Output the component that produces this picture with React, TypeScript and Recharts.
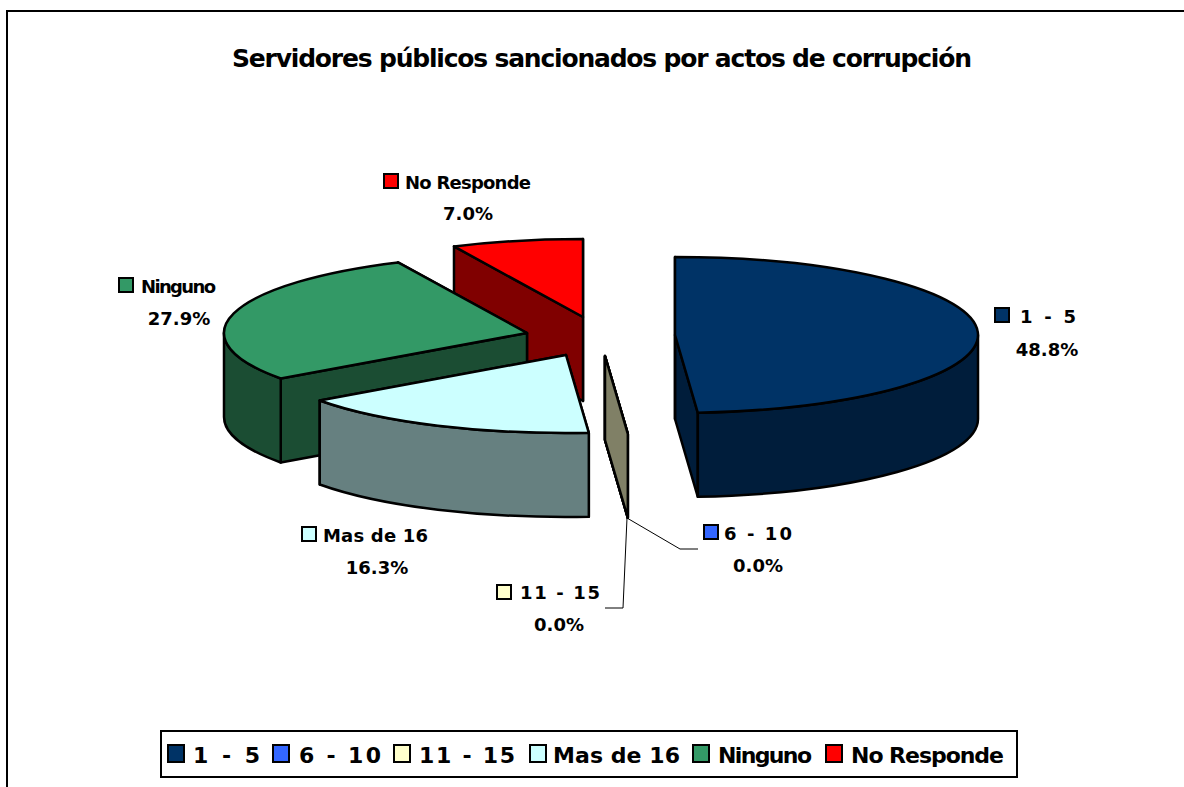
import { Legend, Pie, PieChart } from 'recharts';

const categories = ['1 - 5', '6 - 10', '11 - 15', 'Mas de 16', 'Ninguno', 'No Responde'];
const percentages = [48.8, 0, 0, 16.3, 27.9, 7.0];
const topColors = ['#003366', '#3366ff', '#ffffcc', '#ccffff', '#339966', '#ff0000'];
const sideColors = ['#001d3b', '#808066', '#808066', '#668080', '#1b4d33', '#800000'];

// drawn back to front, which also means counter-clockwise from 12 o'clock
const rows = categories
  .map((name, i) => ({ name, value: percentages[i], fill: topColors[i], side: sideColors[i] }))
  .reverse();

const FONT = '"DejaVu Sans", sans-serif';
const PIE_CX = 592;
const PIE_CY = 340;
const RX = 303;
const RY = 78;
const DEPTH = 84;

// how far each slice is pulled out of the pie
const explode: Record<string, [number, number]> = {
  '1 - 5': [83, -5],
  '6 - 10': [13, 16],
  '11 - 15': [13, 16],
  'Mas de 16': [-26, 15],
  Ninguno: [-65, -7],
  'No Responde': [-9, -23],
};

// swatch x, swatch y, name x, name width, name baseline, percent centre, percent baseline
const labelSpots: Record<string, number[]> = {
  '1 - 5': [995, 308, 1020, 56, 323, 1047, 356],
  '6 - 10': [704, 525, 724, 68, 540, 758, 572],
  '11 - 15': [497, 585, 520, 80, 599, 559, 631],
  'Mas de 16': [302, 527, 323, 105, 542, 377, 574],
  Ninguno: [119, 278, 141, 75, 293, 179, 325],
  'No Responde': [384, 174, 405, 126, 189, 468, 220],
};

const leaders: Record<string, string> = {
  '6 - 10': '627,518 680,549 698,549',
  '11 - 15': '627,518 623,608 605,608',
};

// swatch x, name x, name width, relative to the legend box
const legendSpots = [
  [8, 33, 67],
  [113, 139, 82],
  [234, 259, 96],
  [370, 393, 127],
  [533, 558, 94],
  [666, 691, 153],
];

const rad = (a: number) => (a * Math.PI) / 180;

function Slice(props: any) {
  const { name, startAngle, endAngle, cx, cy, fill, side } = props;
  const [dx, dy] = explode[name];
  const ox = cx + dx;
  const oy = cy + dy;
  const px = (a: number) => ox + RX * Math.cos(rad(a));
  const py = (a: number) => oy - RY * Math.sin(rad(a));
  const large = endAngle - startAngle > 180 ? 1 : 0;
  const cut = (a: number) =>
    `M${ox},${oy} L${px(a)},${py(a)} L${px(a)},${py(a) + DEPTH} L${ox},${oy + DEPTH} Z`;
  const wallFrom = Math.max(startAngle, 180);
  const wallTo = Math.min(endAngle, 360);
  const stroke = { stroke: '#000', strokeWidth: 2.5, strokeLinejoin: 'round' as const };

  return (
    <g>
      <path d={cut(startAngle)} fill={side} {...stroke} />
      <path d={cut(endAngle)} fill={side} {...stroke} />
      {wallTo > wallFrom && (
        <path
          d={`M${px(wallFrom)},${py(wallFrom)} A${RX},${RY} 0 0 0 ${px(wallTo)},${py(wallTo)}
              L${px(wallTo)},${py(wallTo) + DEPTH}
              A${RX},${RY} 0 0 1 ${px(wallFrom)},${py(wallFrom) + DEPTH} Z`}
          fill={side}
          {...stroke}
        />
      )}
      {endAngle > startAngle && (
        <path
          d={`M${ox},${oy} L${px(startAngle)},${py(startAngle)}
              A${RX},${RY} 0 ${large} 0 ${px(endAngle)},${py(endAngle)} Z`}
          fill={fill}
          {...stroke}
        />
      )}
    </g>
  );
}

function SliceLabel(props: any) {
  const { name, percent, fill } = props;
  const [sx, sy, nx, nw, ny, pcx, py] = labelSpots[name];
  return (
    <g fontFamily={FONT} fontWeight="bold" fontSize={18} fill="#000">
      {leaders[name] && <polyline points={leaders[name]} fill="none" stroke="#000" strokeWidth={1} />}
      <rect x={sx} y={sy} width={14} height={14} fill={fill} stroke="#000" strokeWidth={2} />
      <text x={nx} y={ny} textLength={nw} lengthAdjust="spacing" stroke="none" fill="#000">
        {name}
      </text>
      <text x={pcx} y={py} textAnchor="middle" stroke="none" fill="#000">
        {(percent * 100).toFixed(1)}%
      </text>
    </g>
  );
}

function LegendBox({ payload }: any) {
  // the library sorts its payload by name, the box keeps the category order
  const items = categories.map((name) => (payload ?? []).find((p: any) => p.value === name)).filter(Boolean);
  return (
    <svg width={858} height={48} style={{ display: 'block' }}>
      <rect x={1} y={1} width={856} height={46} fill="#fff" stroke="#000" strokeWidth={2} />
      {items.map((item: any, i: number) => (
        <g key={item.value}>
          <rect x={legendSpots[i][0]} y={15} width={16} height={17} fill={item.color} stroke="#000" strokeWidth={2} />
          <text
            x={legendSpots[i][1]}
            y={33}
            textLength={legendSpots[i][2]}
            lengthAdjust="spacing"
            fontFamily={FONT}
            fontWeight="bold"
            fontSize={22}
          >
            {item.value}
          </text>
        </g>
      ))}
    </svg>
  );
}

export default function App() {
  return (
    <div style={{ position: 'absolute', left: 0, top: 0, width: 1184, height: 787, overflow: 'hidden', background: '#fff' }}>
      <div style={{ position: 'absolute', left: 6, top: 10, right: 0, bottom: 0, borderLeft: '2px solid #000', borderTop: '2px solid #000' }} />
      <PieChart width={1184} height={787} margin={{ top: 0, right: 0, bottom: 0, left: 0 }} style={{ position: 'absolute', left: 0, top: 0 }}>
        <text x={232} y={67} textLength={740} lengthAdjust="spacing" fontFamily={FONT} fontWeight="bold" fontSize={25} fill="#000">
          Servidores públicos sancionados por actos de corrupción
        </text>
        <Pie
          data={rows}
          dataKey="value"
          nameKey="name"
          cx={PIE_CX}
          cy={PIE_CY}
          outerRadius={RX}
          startAngle={90}
          endAngle={450}
          shape={Slice}
          label={SliceLabel}
          labelLine={false}
          isAnimationActive={false}
        />
        <Legend
          content={LegendBox}
          wrapperStyle={{ position: 'absolute', left: 160, top: 730, bottom: 'auto', width: 858, height: 48 }}
        />
      </PieChart>
    </div>
  );
}
